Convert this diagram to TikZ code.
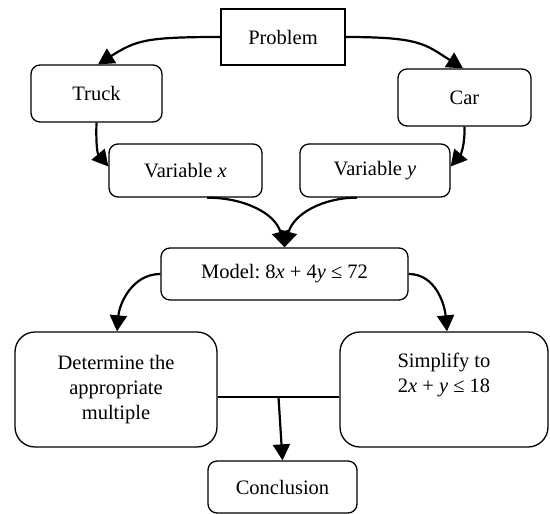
\documentclass[tikz,border=0pt]{standalone}
\usepackage{fontspec}
\setmainfont{Liberation Serif}
\usetikzlibrary{arrows.meta}
\frenchspacing
\begin{document}
\begin{tikzpicture}[x=1pt,y=1pt,
  every node/.style={font=\fontsize{20.5}{25}\selectfont, inner sep=0pt},
  box/.style={draw, line width=1.3pt, rounded corners=9pt},
  bigbox/.style={draw, line width=1.3pt, rounded corners=20pt, align=center},
  arr/.style={line width=2.2pt, -{Triangle[length=16pt,width=17pt]}}
]
\useasboundingbox (0,0) rectangle (550,514);
\node[draw, line width=1.3pt, minimum width=124pt, minimum height=56pt] (prob) at (283,477) {Problem};
\node[box, minimum width=131pt, minimum height=57pt] (truck) at (96.5,420.5) {Truck};
\node[box, minimum width=133pt, minimum height=57pt] (car) at (464.5,416.5) {Car};
\node[box, minimum width=153pt, minimum height=53pt] (varx) at (185.5,343.5) {Variable \textit{x}};
\node[box, minimum width=150pt, minimum height=53pt] (vary) at (375,343.5) {Variable \textit{y}};
\node[box, minimum width=247pt, minimum height=52pt] (model) at (284.5,240) {Model: 8\textit{x} + 4\textit{y} ≤ 72};
\node[bigbox, minimum width=202pt, minimum height=115pt] (det) at (116,124.5) {Determine the\\appropriate\\multiple};
\node[bigbox, minimum width=208pt, minimum height=115pt] (simp) at (444,124.5) {Simplify to\\2\textit{x} + \textit{y} ≤ 18\\\strut};
\node[box, minimum width=149pt, minimum height=52pt] (concl) at (282.5,27) {Conclusion};

\draw[arr] (prob.west) .. controls +(-75,0) and +(38,24) .. ([xshift=1.5pt]truck.north);
\draw[arr] (prob.east) .. controls +(75,0) and +(-38,24) .. ([xshift=-1.5pt]car.north);
\draw[arr] (truck.south) to[out=-92,in=130] ([yshift=4pt]varx.west);
\draw[arr] (car.south) to[out=-88,in=50] ([yshift=4pt]vary.east);
\draw[arr] ([xshift=21.5pt]varx.south) to[out=0,in=105] (model.north);
\draw[arr] ([xshift=-18pt]vary.south) to[out=180,in=75] (model.north);
\draw[arr] (model.west) to[out=180,in=85] ([xshift=1pt]det.north);
\draw[arr] (model.east) to[out=0,in=95] ([xshift=3pt]simp.north);
\draw[line width=1.3pt] ([yshift=-7.5pt]det.east) -- coordinate[pos=0.5] (mid) ([yshift=-7.5pt]simp.west);
\draw[arr] (mid) -- (concl.north);
\end{tikzpicture}
\end{document}
